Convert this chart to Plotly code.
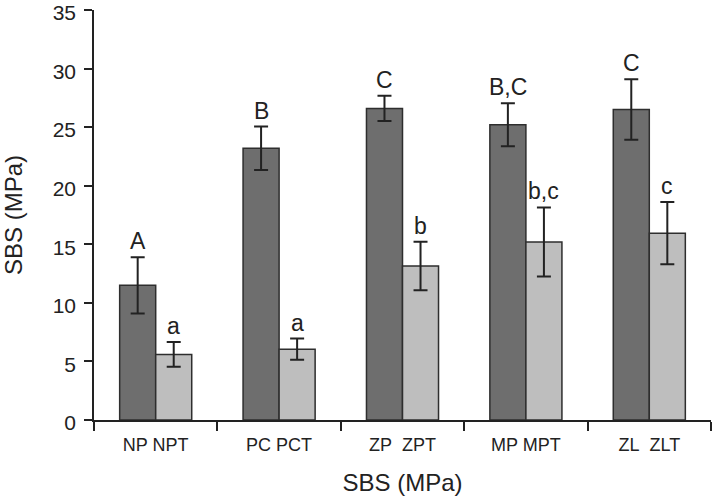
import plotly.graph_objects as go

categories = ["NP NPT", "PC PCT", "ZP\u00a0 ZPT", "MP MPT", "ZL\u00a0 ZLT"]
control_values = [11.5, 23.2, 26.6, 25.2, 26.5]
control_err = [2.4, 1.85, 1.07, 1.83, 2.58]
control_letters = ["A", "B", "C", "B,C", "C"]
treated_values = [5.6, 6.05, 13.15, 15.2, 15.95]
treated_err = [1.05, 0.9, 2.07, 2.95, 2.65]
treated_letters = ["a", "a", "b", "b,c", "c"]
y_ticks = [0, 5, 10, 15, 20, 25, 30, 35]

FONT = "Liberation Sans, Arial, sans-serif"
BARGAP = 0.416
half = (1 - BARGAP) / 4  # center offset of each bar within group

fig = go.Figure()
fig.add_trace(go.Bar(
    x=categories, y=control_values,
    marker=dict(color="#6e6e6e", line=dict(color="#2e2e2e", width=1.5)),
    error_y=dict(type="data", array=control_err, visible=True,
                 color="#222222", thickness=2, width=7),
    showlegend=False, cliponaxis=False,
))
fig.add_trace(go.Bar(
    x=categories, y=treated_values,
    marker=dict(color="#bebebe", line=dict(color="#2e2e2e", width=1.5)),
    error_y=dict(type="data", array=treated_err, visible=True,
                 color="#222222", thickness=2, width=7),
    showlegend=False, cliponaxis=False,
))

annotations = []
for i in range(len(categories)):
    annotations.append(dict(
        x=i - half, y=control_values[i] + control_err[i], xref="x", yref="y",
        text=control_letters[i], showarrow=False, yanchor="bottom", yshift=1,
        font=dict(family=FONT, size=23, color="#222222")))
    annotations.append(dict(
        x=i + half, y=treated_values[i] + treated_err[i], xref="x", yref="y",
        text=treated_letters[i], showarrow=False, yanchor="bottom", yshift=1,
        font=dict(family=FONT, size=23, color="#222222")))

fig.update_layout(
    width=715, height=499,
    margin=dict(l=94, r=4, t=10, b=79),
    paper_bgcolor="white", plot_bgcolor="white",
    barmode="group", bargap=BARGAP, bargroupgap=0,
    font=dict(family=FONT, color="#222222"),
    annotations=annotations,
    xaxis=dict(
        type="category", range=[-0.5, 4.5], automargin=False,
        showline=True, linecolor="#222222", linewidth=1.5,
        ticks="outside", tickson="boundaries", ticklen=9,
        tickcolor="#222222", tickwidth=1.5, ticklabelstandoff=8,
        tickfont=dict(family=FONT, size=18, color="#222222"),
        title=dict(text="SBS (MPa)", font=dict(family=FONT, size=24, color="#222222"),
                   standoff=20),
        showgrid=False, zeroline=False,
    ),
    yaxis=dict(
        range=[0, 35], tickvals=y_ticks, automargin=False,
        showline=True, linecolor="#222222", linewidth=1.5,
        ticks="outside", ticklen=8, tickcolor="#222222", tickwidth=1.5,
        ticklabelstandoff=4, ticklabelshift=3, ticklabeloverflow="allow",
        tickfont=dict(family=FONT, size=21, color="#222222"),
        title=dict(text="SBS (MPa)", font=dict(family=FONT, size=24, color="#222222"),
                   standoff=23),
        showgrid=False, zeroline=False,
    ),
)

fig.write_html("out.html", config={"displayModeBar": False},
               post_script="document.body.style.margin='0';document.body.style.overflow='hidden';")
